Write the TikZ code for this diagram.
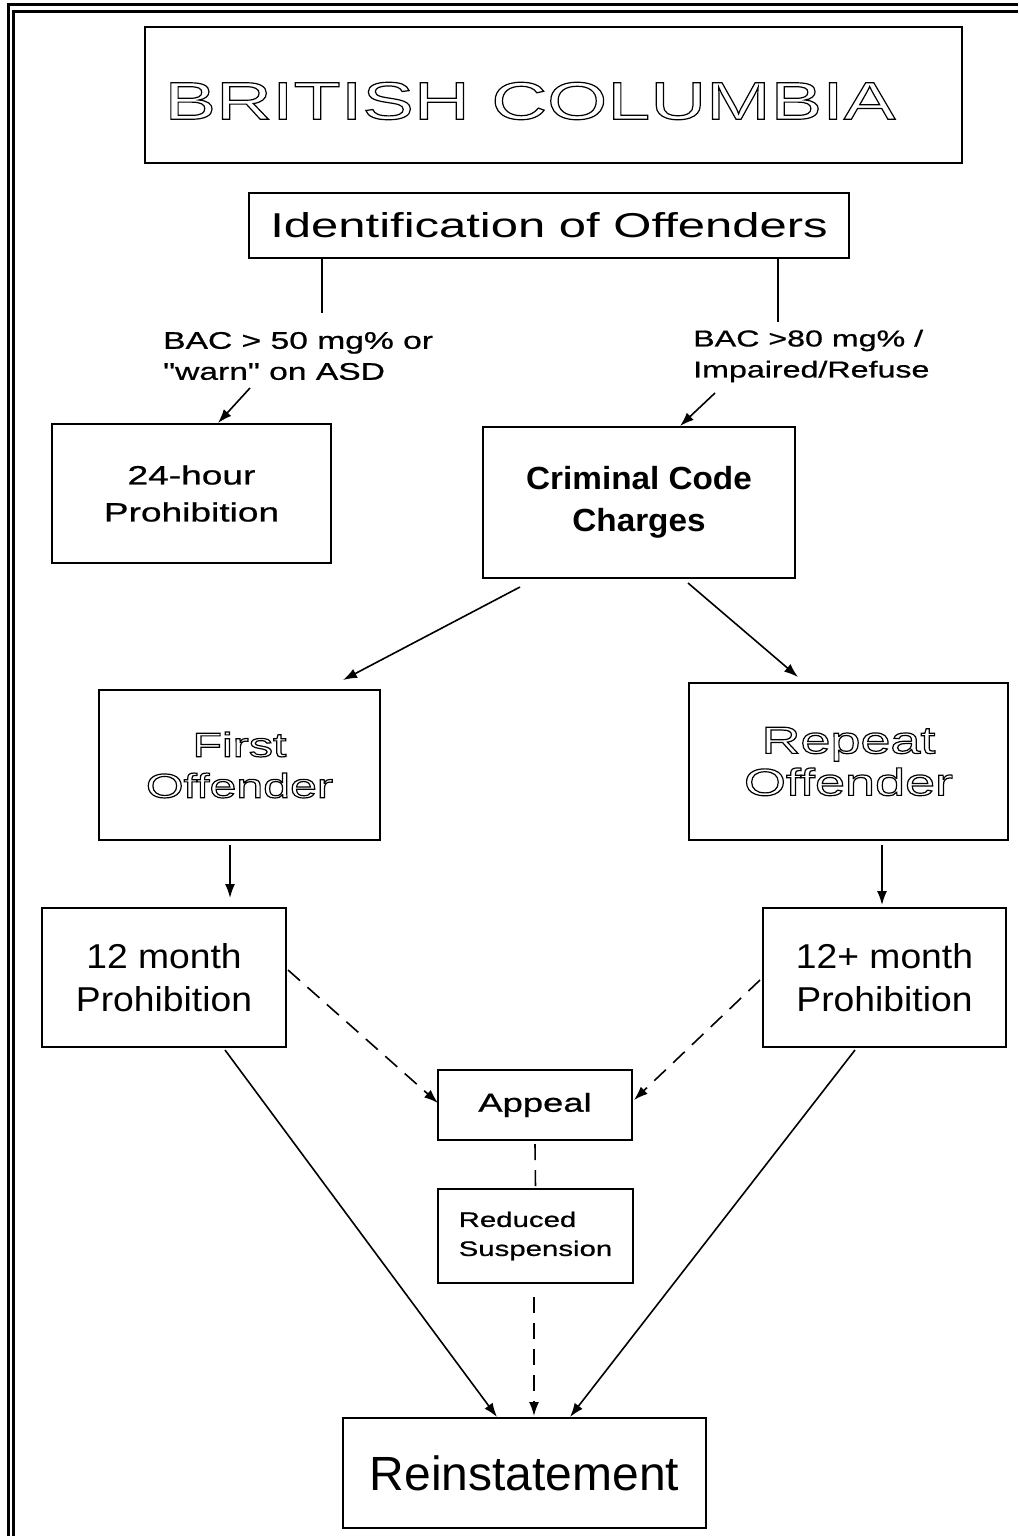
\documentclass[tikz,border=0pt]{standalone}
\usepackage{fontspec}
\setmainfont{Liberation Sans}
% extended sans for most labels, slightly widened one for the prohibition boxes
\newfontfamily\widefam[FakeStretch=1.42]{Liberation Sans}
\newfontfamily\labelfam[FakeStretch=1.40,FakeBold=0.8]{Liberation Sans}
\newfontfamily\headfam[FakeStretch=1.46]{Liberation Sans}
\newfontfamily\mildfam[FakeStretch=1.08]{Liberation Sans}
\newfontfamily\boldfam[FakeStretch=1.04]{Liberation Sans}
\usetikzlibrary{arrows.meta}
% hollow (stroked) lettering
\newcommand\hollow[1]{\special{pdf:literal direct 1 Tr 1.2 w}#1\special{pdf:literal direct 0 Tr}}

\begin{document}
\begin{tikzpicture}[x=1pt,y=-1pt,
  box/.style={draw, line width=2pt, inner sep=0pt, align=center},
  link/.style={line width=1.6pt},
  arr/.style={link, -{Latex[length=14pt,width=10pt]}},
  dashlink/.style={link, dash pattern=on 16pt off 10pt},
  dasharr/.style={dashlink, -{Latex[length=14pt,width=10pt]}},
]
\useasboundingbox (0,0) rectangle (1018,1536);

% page frame: double rule along the top and the left side
\draw[line width=3pt] (1018,5) -| (8,1536);
\draw[line width=3pt] (1018,12) -| (13,1536);

% heading
\node[box, minimum width=817pt, minimum height=136pt] (title) at (553.5,95) {};
\node[font={\headfam\fontsize{53}{60}\selectfont}] (titletext) at (530,101) {\hollow{BRITISH COLUMBIA}};

\node[box, minimum width=600pt, minimum height=65pt,
      font={\widefam\fontsize{34.5}{40}\selectfont}] (ident) at (549,225.5)
  {Identification of Offenders};

% branch labels
\node[anchor=west, align=left, inner sep=0pt,
      font={\labelfam\fontsize{24}{31}\selectfont}] (lab50) at (163,356)
  {BAC > 50 mg\% or\\ "warn" on ASD};
\node[anchor=west, align=left, inner sep=0pt,
      font={\labelfam\fontsize{23}{31}\selectfont}] (lab80) at (693,356)
  {BAC >80 mg\% /\\ Impaired/Refuse};

% outcome boxes
\node[box, minimum width=279pt, minimum height=139pt,
      font={\labelfam\fontsize{26.5}{37}\selectfont}] (p24) at (191.5,493.5)
  {24-hour\\ Prohibition};
\node[box, minimum width=312pt, minimum height=151pt,
      font={\boldfam\bfseries\fontsize{32}{42}\selectfont}] (ccc) at (639,502.5)
  {Criminal Code\\ Charges};
\node[box, minimum width=281pt, minimum height=150pt,
      font={\widefam\fontsize{34}{41}\selectfont}] (first) at (239.5,765)
  {\hollow{First}\\ \hollow{Offender}};
\node[box, minimum width=319pt, minimum height=157pt,
      font={\widefam\fontsize{38}{42}\selectfont}] (repeat) at (848.5,761.5)
  {\hollow{Repeat}\\ \hollow{Offender}};
\node[box, minimum width=244pt, minimum height=139pt,
      font={\mildfam\fontsize{34.5}{43}\selectfont}] (m12) at (164,977.5)
  {12 month\\ Prohibition};
\node[box, minimum width=243pt, minimum height=139pt,
      font={\mildfam\fontsize{34.5}{43}\selectfont}] (m12p) at (884.5,977.5)
  {12+ month\\ Prohibition};
\node[box, minimum width=194pt, minimum height=70pt,
      font={\labelfam\fontsize{26}{30}\selectfont}] (appeal) at (535,1105)
  {Appeal};
\node[box, minimum width=195pt, minimum height=94pt, align=left,
      font={\labelfam\fontsize{21}{29}\selectfont}] (reduced) at (535.5,1236)
  {Reduced\\ Suspension};
\node[box, minimum width=363pt, minimum height=110pt,
      font={\fontsize{48}{56}\selectfont}] (reinst) at (524.5,1473)
  {Reinstatement};

% stems under the identification box
\coordinate (stemL) at (322,313);
\coordinate (stemR) at (778,322);
\draw[link] (ident.south -| stemL) -- (stemL);
\draw[link] (ident.south -| stemR) -- (stemR);

% arrows from the labels into the boxes
\coordinate (fromL) at (250,388);
\coordinate (toL) at (218,0);
\draw[arr] (fromL) -- (p24.north -| toL);
\coordinate (fromR) at (715,393);
\coordinate (toR) at (680,0);
\draw[arr] (fromR) -- (ccc.north -| toR);

% charges split into first / repeat offenders
\coordinate (splitL) at (520,587);
\coordinate (tipFirst) at (343,680);
\draw[arr] (splitL) -- (tipFirst);
\coordinate (splitR) at (688,583);
\coordinate (tipRepeat) at (798,677);
\draw[arr] (splitR) -- (tipRepeat);

\coordinate (downL) at (230,845);
\coordinate (tipM12) at (230,898);
\draw[arr] (downL) -- (tipM12);
\coordinate (downR) at (882,845);
\coordinate (tipM12p) at (882,905);
\draw[arr] (downR) -- (tipM12p);

% appeal route (dashed)
\coordinate (apL) at (288,970);
\coordinate (apLtip) at (438,1103);
\draw[dasharr] (apL) -- (apLtip);
\coordinate (apR) at (760,980);
\coordinate (apRtip) at (634,1100);
\draw[dasharr] (apR) -- (apRtip);
\draw[dashlink] (appeal.south) ++(0,3) -- (reduced.north);
\coordinate (redOut) at (534,1297);
\coordinate (redTip) at (534,1416);
\draw[dasharr] (redOut) -- (redTip);

% direct routes to reinstatement
\coordinate (dirL) at (225,1050);
\coordinate (dirLtip) at (497,1417);
\draw[arr] (dirL) -- (dirLtip);
\coordinate (dirR) at (855,1050);
\coordinate (dirRtip) at (570,1417);
\draw[arr] (dirR) -- (dirRtip);
\end{tikzpicture}
\end{document}
